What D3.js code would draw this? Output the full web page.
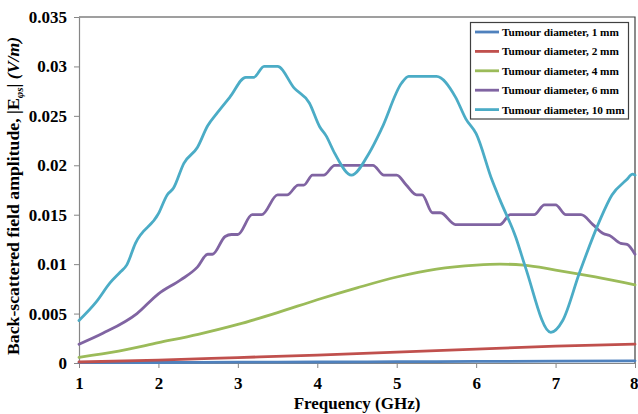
<html>
  <style type="text/css">
    body { margin: 0; background: #fff; }
    text { font-family: "Liberation Serif", "Times New Roman", serif; font-weight: bold; }
  </style>
  <body>
    <script src="https://cdnjs.cloudflare.com/ajax/libs/d3/7.8.5/d3.min.js"></script>
    <script type="text/javascript">
      // tick values and labels
      const freqTicks = [1, 2, 3, 4, 5, 6, 7, 8];
      const ampTicks = [0, 0.005, 0.01, 0.015, 0.02, 0.025, 0.03, 0.035];
      const ampTickLabels = ["0", "0.005", "0.01", "0.015", "0.02", "0.025", "0.03", "0.035"];

      const seriesNames = [
        "Tumour diameter, 1 mm",
        "Tumour diameter, 2 mm",
        "Tumour diameter, 4 mm",
        "Tumour diameter, 6 mm",
        "Tumour diameter, 10 mm",
      ];

      // [frequency GHz, amplitude V/m]
      const d1mm = [[1, 0.00003], [2, 0.00005], [3, 0.00008], [4, 0.0001], [5, 0.00013], [6, 0.00016], [7, 0.00019], [8, 0.00022]];
      const d2mm = [[1, 0.0001], [2, 0.0003], [3, 0.00055], [4, 0.0008], [5, 0.0011], [6, 0.0014], [7, 0.0017], [8, 0.0019]];
      const d4mm = [[1, 0.00058], [1.5, 0.0012], [2, 0.00205], [2.5, 0.0029], [3, 0.0039], [3.5, 0.0051], [4, 0.0064],
        [4.5, 0.0076], [5, 0.0087], [5.5, 0.0095], [6, 0.0099], [6.3, 0.01], [6.6, 0.0099], [7, 0.0094], [7.5, 0.0087], [8, 0.0079]];
      const d6mm = [[1, 0.0019], [1.3, 0.003], [1.73, 0.005], [2, 0.007], [2.28, 0.0084], [2.49, 0.0097], [2.62, 0.011],
        [2.68, 0.011], [2.84, 0.0128], [2.92, 0.013], [3.0, 0.013], [3.18, 0.015], [3.3, 0.015], [3.5, 0.017], [3.62, 0.017],
        [3.76, 0.018], [3.83, 0.018], [3.94, 0.019], [4.08, 0.019], [4.22, 0.02], [4.7, 0.02], [4.84, 0.019], [5.0, 0.019],
        [5.12, 0.018], [5.25, 0.017], [5.32, 0.017], [5.45, 0.0152], [5.55, 0.0152], [5.74, 0.014], [6.3, 0.014], [6.43, 0.015],
        [6.73, 0.015], [6.86, 0.016], [7.0, 0.016], [7.13, 0.015], [7.32, 0.015], [7.47, 0.014], [7.6, 0.0131], [7.68, 0.0129],
        [7.82, 0.0121], [7.9, 0.012], [8, 0.011]];
      const d10mm = [[1, 0.0043], [1.22, 0.0062], [1.39, 0.0081], [1.52, 0.0092], [1.6, 0.0099], [1.71, 0.0121], [2.0, 0.0151],
        [2.11, 0.017], [2.19, 0.0177], [2.32, 0.0202], [2.49, 0.0218], [2.62, 0.024], [2.74, 0.0253], [2.9, 0.0269], [3.1, 0.0289],
        [3.2, 0.0289], [3.33, 0.03], [3.5, 0.03], [3.71, 0.0278], [3.9, 0.0263], [4.03, 0.0239], [4.11, 0.023], [4.22, 0.0212],
        [4.43, 0.019], [4.65, 0.0212], [4.81, 0.0237], [5.06, 0.0283], [5.15, 0.029], [5.5, 0.029], [5.74, 0.0269], [5.87, 0.0247],
        [6.0, 0.0232], [6.2, 0.0185], [6.3, 0.0165], [6.5, 0.0127], [6.62, 0.0097], [6.94, 0.0031], [7.09, 0.0043], [7.3, 0.0091],
        [7.55, 0.0143], [7.71, 0.017], [7.89, 0.0185], [7.97, 0.0191], [8, 0.019]];

      const allSeries = [d1mm, d2mm, d4mm, d6mm, d10mm];
      const colors = ["#4F81BD", "#C0504D", "#9BBB59", "#8064A2", "#4BACC6"];

      const width = 638, height = 414;
      const plot = { left: 79, right: 635, top: 17, bottom: 363 };

      const svg = d3.select("body").append("svg")
        .attr("width", width)
        .attr("height", height);

      const x = d3.scaleLinear().domain([1, 8]).range([plot.left, plot.right]);
      const y = d3.scaleLinear().domain([0, 0.035]).range([plot.bottom, plot.top]);

      // frame on top and right
      svg.append("path")
        .attr("d", `M${plot.left},${plot.top}H${plot.right}V${plot.bottom}`)
        .attr("fill", "none")
        .attr("stroke", "#404040")
        .attr("stroke-width", 1.2);

      const xAxis = svg.append("g")
        .attr("transform", `translate(0,${plot.bottom})`)
        .call(d3.axisBottom(x).tickValues(freqTicks).tickFormat(d3.format("d"))
          .tickSize(5).tickSizeOuter(0).tickPadding(9));

      const yAxis = svg.append("g")
        .attr("transform", `translate(${plot.left},0)`)
        .call(d3.axisLeft(y).tickValues(ampTicks).tickFormat((d, i) => ampTickLabels[i])
          .tickSize(5).tickSizeOuter(0).tickPadding(7));

      [xAxis, yAxis].forEach(g => {
        g.select(".domain").attr("stroke", "#868686").attr("stroke-width", 1.2);
        g.selectAll(".tick line").attr("stroke", "#868686");
        g.selectAll(".tick text")
          .attr("fill", "#000")
          .style("font-family", '"Liberation Serif", "Times New Roman", serif')
          .style("font-weight", "bold")
          .style("font-size", "17px");
      });

      // last frequency label sits against the right edge, as in the original
      xAxis.selectAll(".tick text")
        .filter(d => d === 8)
        .attr("text-anchor", "end")
        .attr("x", 3);

      // lines
      const line = d3.line()
        .x(d => x(d[0]))
        .y(d => y(d[1]))
        .curve(d3.curveMonotoneX);

      svg.append("g").selectAll("path")
        .data(allSeries)
        .enter()
        .append("path")
        .attr("d", line)
        .attr("fill", "none")
        .attr("stroke", (d, i) => colors[i])
        .attr("stroke-width", 2.8)
        .attr("stroke-linejoin", "round")
        .attr("stroke-linecap", "round");

      // axis titles
      svg.append("text")
        .attr("x", 357)
        .attr("y", 409)
        .attr("text-anchor", "middle")
        .style("font-size", "17px")
        .text("Frequency (GHz)");

      const yTitle = svg.append("text")
        .attr("text-anchor", "start")
        .style("font-size", "16px");
      yTitle.append("tspan").text("Back-scattered field amplitude, |E");
      yTitle.append("tspan")
        .attr("class", "sub")
        .style("font-style", "italic")
        .attr("dy", 4)
        .text("φs");
      yTitle.append("tspan").attr("dy", -4).text("| ");
      yTitle.append("tspan").style("font-style", "italic").text("(V/m)");

      // fit the title to run from y=355 up to y=30
      const titleLen = 325;
      const w0 = yTitle.node().getComputedTextLength();
      const fs = 16 * titleLen / w0;
      yTitle.style("font-size", fs + "px");
      yTitle.select("tspan.sub").style("font-size", (fs * 0.62) + "px");
      yTitle.attr("transform", "translate(19,355) rotate(-90)");

      // legend
      const legend = svg.append("g");
      legend.append("rect")
        .attr("x", 470.5).attr("y", 22.5)
        .attr("width", 158).attr("height", 96.5)
        .attr("fill", "#fff")
        .attr("stroke", "#404040")
        .attr("stroke-width", 1.2);

      const entries = legend.selectAll("g.entry")
        .data(seriesNames)
        .enter()
        .append("g")
        .attr("class", "entry")
        .attr("transform", (d, i) => `translate(0,${32 + i * 19.4})`);

      entries.append("line")
        .attr("x1", 475).attr("x2", 499)
        .attr("stroke", (d, i) => colors[i])
        .attr("stroke-width", 2.8);

      entries.append("text")
        .attr("x", 502)
        .attr("y", 4)
        .style("font-size", "11.3px")
        .text(d => d);
    </script>
  </body>
</html>
